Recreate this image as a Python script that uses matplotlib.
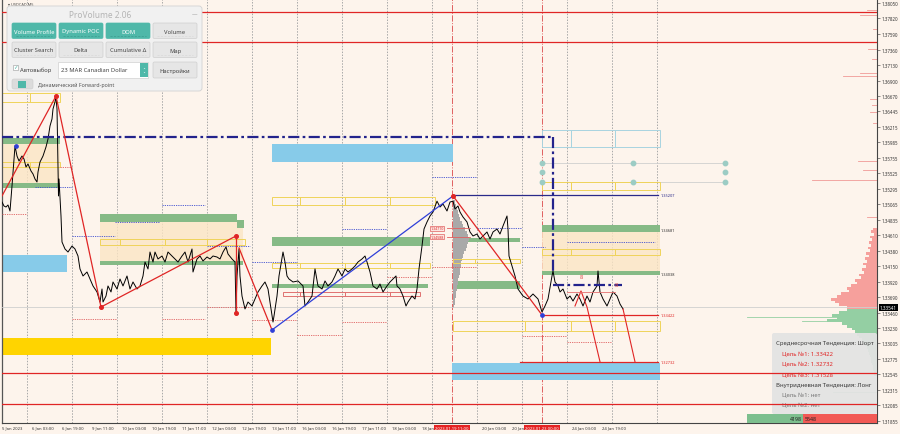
import numpy as np
import matplotlib
matplotlib.use("Agg")
import matplotlib.pyplot as plt
import matplotlib.transforms as mtransforms
from matplotlib.patches import Rectangle, FancyBboxPatch

plt.rcParams["font.family"] = ["Noto Sans", "DejaVu Sans"]

W, H = 900, 435
BG = "#fdf4ec"
P_TOP, P_BOTTOM = 1.38109, 1.31825

# ---- price series (bar position, close) ----
bars = [2, 4, 6, 8, 10, 12, 15, 17, 19, 22, 24, 26, 28, 31, 33, 35, 37, 38, 40, 43,
        46, 48, 50, 52, 53, 55, 56, 57, 58, 58.5, 59, 61, 62, 65, 68, 72, 75, 78, 80, 83,
        87, 90, 93, 97, 100, 102, 103, 106, 108, 111, 113, 117, 120, 123, 127, 130, 133, 137, 140, 143,
        145, 148, 150, 153, 155, 158, 162, 165, 168, 172, 175, 178, 182, 185, 188, 192, 193, 197, 200, 203,
        207, 210, 213, 217, 220, 223, 226, 228, 232, 235, 236, 237, 239, 240, 242, 245, 248, 252, 255, 258,
        262, 265, 268, 271, 273, 274, 277, 279, 283, 285, 287, 289, 293, 298, 303, 305, 308, 312, 315, 318,
        322, 325, 328, 332, 335, 338, 342, 345, 348, 352, 355, 358, 362, 365, 367, 370, 373, 377, 380, 383,
        387, 390, 393, 396, 397, 400, 403, 406, 408, 412, 415, 417, 419, 422, 424, 427, 430, 433, 437, 440,
        443, 447, 450, 453, 455, 458, 460, 463, 467, 470, 473, 477, 480, 483, 487, 490, 493, 497, 500, 503,
        507, 508, 509, 512, 515, 518, 523, 528, 533, 538, 542, 545, 548, 552, 553, 555, 558, 560, 563, 567,
        570, 573, 577, 580, 583, 587, 590, 593, 597, 598, 600, 603, 607, 610, 613, 617, 620, 623]
closes = [1.35100, 1.35041, 1.35026, 1.35056, 1.34967, 1.35338, 1.35931, 1.35782, 1.35708, 1.35782,
          1.35738, 1.35619, 1.35664, 1.35560, 1.35516, 1.35441, 1.35397, 1.35545, 1.35693, 1.35782,
          1.35916, 1.36034, 1.36227, 1.36331, 1.36479, 1.36583, 1.36657, 1.36479, 1.35634, 1.35190,
          1.35441, 1.34893, 1.34508, 1.34404, 1.34359, 1.34448, 1.34404, 1.34300, 1.34108, 1.34004,
          1.34063, 1.33959, 1.33856, 1.33767, 1.33618, 1.33811, 1.33618, 1.33707, 1.33856, 1.33767,
          1.33915, 1.33811, 1.33959, 1.33856, 1.34004, 1.33811, 1.33915, 1.33811, 1.33856, 1.34004,
          1.34211, 1.34108, 1.34359, 1.34211, 1.34359, 1.34256, 1.34300, 1.34211, 1.34359, 1.34300,
          1.34256, 1.34211, 1.34300, 1.34359, 1.34211, 1.34404, 1.34063, 1.34256, 1.34300, 1.34226,
          1.34285, 1.34256, 1.34300, 1.34285, 1.34256, 1.34359, 1.34434, 1.34330, 1.34256, 1.34211,
          1.33470, 1.34004, 1.34404, 1.34004, 1.33707, 1.33515, 1.33618, 1.33559, 1.33663, 1.33767,
          1.33856, 1.33915, 1.33811, 1.33515, 1.33322, 1.33411, 1.33707, 1.34004, 1.34359, 1.34211,
          1.34004, 1.33959, 1.33915, 1.33930, 1.33856, 1.33559, 1.33618, 1.33707, 1.34108, 1.33856,
          1.33811, 1.33930, 1.33856, 1.33915, 1.34004, 1.34108, 1.34004, 1.34108, 1.34063, 1.34108,
          1.34152, 1.34211, 1.34256, 1.34300, 1.34211, 1.34063, 1.33856, 1.33811, 1.33885, 1.33767,
          1.33856, 1.33915, 1.33959, 1.34004, 1.33856, 1.33811, 1.33707, 1.33559, 1.33618, 1.33707,
          1.33663, 1.33811, 1.34108, 1.34448, 1.34700, 1.34804, 1.34893, 1.34952, 1.35113, 1.35026,
          1.35071, 1.34967, 1.35100, 1.35113, 1.34997, 1.35041, 1.34952, 1.34878, 1.34804, 1.34656,
          1.34597, 1.34626, 1.34552, 1.34597, 1.34656, 1.34552, 1.34656, 1.34700, 1.34626, 1.34745,
          1.34893, 1.34700, 1.34300, 1.34152, 1.34004, 1.33811, 1.33707, 1.33663, 1.33737, 1.33663,
          1.33470, 1.33559, 1.33663, 1.34004, 1.34078, 1.33915, 1.33856, 1.33767, 1.33811, 1.33663,
          1.33707, 1.33633, 1.33737, 1.33663, 1.33559, 1.33707, 1.33618, 1.33767, 1.33856, 1.34078,
          1.33767, 1.33663, 1.33559, 1.33663, 1.33767, 1.33707, 1.33589, 1.33515]
current_price = 1.33541

# ---- zones: (bar0, bar1, top, bottom) ----
green_bands = [(2, 60, 1.36049, 1.35960), (2, 60, 1.35382, 1.35308),
               (100, 237, 1.34923, 1.34804), (237, 244, 1.34834, 1.34715),
               (100, 243, 1.34226, 1.34167), (272, 430, 1.34582, 1.34448),
               (272, 428, 1.33885, 1.33826), (453, 520, 1.34567, 1.34508),
               (453, 520, 1.33930, 1.33811), (542, 660, 1.34760, 1.34656),
               (542, 660, 1.34078, 1.34019)]
beige_zones = [(2, 60, 1.35960, 1.35338), (100, 243, 1.34804, 1.34226),
               (542, 660, 1.34656, 1.34048)]
sky_zones = [(2, 67, 1.34315, 1.34063), (272, 453, 1.35960, 1.35693),
             (452, 660, 1.32714, 1.32463)]
gold_zones = [(2, 271, 1.33085, 1.32833)]
yellow_boxes = [(2, 30, 1.36716, 1.36583), (30, 60, 1.36716, 1.36583),
                (2, 30, 1.35693, 1.35619), (30, 60, 1.35693, 1.35619),
                (100, 120, 1.34552, 1.34463), (120, 165, 1.34552, 1.34463),
                (165, 207, 1.34552, 1.34463), (207, 245, 1.34552, 1.34463),
                (272, 300, 1.35175, 1.35056), (300, 345, 1.35175, 1.35056),
                (345, 390, 1.35175, 1.35056), (390, 435, 1.35175, 1.35056),
                (272, 300, 1.34196, 1.34122), (300, 345, 1.34196, 1.34122),
                (345, 390, 1.34196, 1.34122), (390, 430, 1.34196, 1.34122),
                (453, 475, 1.34256, 1.34196), (475, 520, 1.34256, 1.34196),
                (453, 525, 1.33337, 1.33189), (525, 571, 1.33337, 1.33189),
                (571, 615, 1.33337, 1.33189), (615, 660, 1.33337, 1.33189),
                (542, 571, 1.35397, 1.35278), (571, 615, 1.35397, 1.35278),
                (615, 660, 1.35397, 1.35278),
                (542, 571, 1.34404, 1.34315), (571, 615, 1.34404, 1.34315),
                (615, 660, 1.34404, 1.34315)]
cyan_boxes = [(542, 571, 1.36168, 1.35916), (571, 615, 1.36168, 1.35916),
              (615, 660, 1.36168, 1.35916)]
red_boxes = [(283, 300, 1.33767, 1.33707), (300, 345, 1.33767, 1.33707),
             (345, 390, 1.33767, 1.33707), (390, 420, 1.33767, 1.33707)]

# short dotted levels: (bar0, bar1, price)
blue_dotted = [(35, 72, 1.35323), (72, 115, 1.34597), (115, 160, 1.34804),
               (162, 205, 1.35056), (207, 250, 1.34448), (252, 297, 1.34211),
               (342, 387, 1.34700), (432, 477, 1.35471), (477, 522, 1.34715),
               (522, 545, 1.34434), (567, 655, 1.34508)]
red_dotted = [(60, 72, 1.35619), (2, 27, 1.34923), (72, 117, 1.33367),
              (162, 205, 1.33367), (207, 250, 1.33544), (252, 297, 1.33352),
              (297, 342, 1.33131), (342, 387, 1.33322), (387, 432, 1.33989),
              (432, 477, 1.34137), (522, 567, 1.33115), (567, 612, 1.33026)]

# key levels
red_levels = [1.37916, 1.37470, 1.32566, 1.32107]
target_levels = [1.33422, 1.32732]
resist_level = 1.35207
poc_levels = [1.34681, 1.34038]
navy_level = 1.36064
navy_break_bar = 553
navy_low_level = 1.34034
navy_side_level = 1.33870

# analysis zigzags: (bar, price)
red_zig = [(2, 1.35190), (56, 1.36671), (101, 1.33544), (236, 1.34597)]
red_drop = [(239, 1.34419), (272, 1.33204)]
blue_leg = [(272, 1.33204), (453, 1.35190)]
red_leg = [(453, 1.35190), (542, 1.33426)]
red_small = [(575, 1.33559), (581, 1.33782), (587, 1.33544), (600, 1.32732)]
red_tail = [(623, 1.33515), (635, 1.32732)]
red_pivots = [(56, 1.36671), (101, 1.33544), (236, 1.34597), (236, 1.33456), (453, 1.35190)]
blue_pivots = [(272, 1.33204), (542, 1.33426), (16, 1.35931)]
wave_marks = [(581, 1.33989), (616, 1.33885)]
teal_dots = [(542, 1.35678), (542, 1.35545), (542, 1.35397), (633, 1.35678), (633, 1.35397),
             (725, 1.35678), (725, 1.35545), (725, 1.35397)]

# volume profiles
prof_top, prof_step = 1.34700, 0.0004
prof_red = [4, 6, 3, 7, 5, 8, 6, 9, 7, 11, 8, 12, 10, 14, 11, 15, 13, 18, 16, 22,
            20, 26, 30, 28, 36, 40, 46, 42, 38, 30]
prof_green_top = 1.33500
prof_green = [30, 38, 45, 40, 50, 35, 30, 25, 22, 20, 18, 15, 14, 12, 10, 9, 8, 7,
              6, 6, 5, 4, 4, 3, 3]
thin_red = [(1.37946, 10), (1.37872, 17), (1.37664, 4), (1.37368, 9), (1.37220, 5),
            (1.37012, 17), (1.36968, 34), (1.36627, 7), (1.36538, 5), (1.36434, 7),
            (1.36271, 4), (1.35708, 19), (1.35575, 14), (1.35427, 65), (1.34878, 10)]
thin_green = [(1.33396, 130), (1.33337, 75), (1.32285, 44)]
sess_top, sess_step = 1.35100, 0.0005
sess_grey = [2, 3, 4, 5, 6, 7, 9, 10, 12, 14, 15, 16, 15, 14, 13, 11, 10, 9, 8, 8,
             7, 7, 6, 5, 5, 4, 4, 3, 3, 2, 2, 1]
buy_vol, sell_vol = 4198, 5548

# axes labels (labels at 19 Jan 11:00 and 23 Jan 11:00 sit under the red session tags)
price_ticks = [1.38050, 1.37820, 1.37590, 1.37360, 1.37130, 1.36900, 1.36670, 1.36445,
               1.36215, 1.35985, 1.35755, 1.35525, 1.35295, 1.35065, 1.34835, 1.34610,
               1.34380, 1.34150, 1.33920, 1.33690, 1.33460, 1.33230, 1.33005, 1.32775,
               1.32545, 1.32315, 1.32085, 1.31855]
time_x = [2, 32, 62, 92, 122, 152, 182, 212, 242, 272, 302, 332, 362, 392, 422,
          482, 512, 572, 602]
time_labels = ["5 Jan 2023", "6 Jan 03:00", "6 Jan 19:00", "9 Jan 11:00", "10 Jan 03:00",
               "10 Jan 19:00", "11 Jan 11:00", "12 Jan 03:00", "12 Jan 19:00", "13 Jan 11:00",
               "16 Jan 03:00", "16 Jan 19:00", "17 Jan 11:00", "18 Jan 03:00", "18 Jan 19:00",
               "20 Jan 03:00", "20 Jan 19:00", "24 Jan 03:00", "24 Jan 19:00"]
grid_x = [27, 72, 117, 162, 207, 252, 297, 342, 387, 432, 477, 522, 567, 612, 657]
session_x = [452, 542]
session_labels = ["2023.01.19 11:00", "2023.01.23 00:00"]

# ---------------------------------------------------------------
fig = plt.figure(figsize=(W / 100, H / 100), dpi=100, facecolor=BG)
ax = fig.add_axes([2 / W, 11 / H, 875 / W, 424 / H])
ax.set_facecolor(BG)
ax.set_xlim(2, 877)
ax.set_ylim(P_BOTTOM, P_TOP)
px = mtransforms.Affine2D().scale(1 / W, -1 / H).translate(0, 1) + fig.transFigure


def zone(x0, x1, top, bot, **kw):
    ax.add_patch(Rectangle((x0, bot), x1 - x0, top - bot, **kw))


for gx in grid_x:
    ax.axvline(gx, color="#a8a8a8", lw=0.7, ls=(0, (1.5, 1.5)), zorder=1)
for sx in session_x:
    ax.axvline(sx, color="#e06060", lw=0.7, ls="-.", zorder=1)

for z in beige_zones:
    zone(*z, facecolor="#fbe5c4", edgecolor="none", alpha=0.8, zorder=1.5)
for z in green_bands:
    zone(*z, facecolor="#86ba86", edgecolor="none", zorder=2)
for z in sky_zones:
    zone(*z, facecolor="#87cbe9", edgecolor="none", zorder=2)
for z in gold_zones:
    zone(*z, facecolor="#ffd400", edgecolor="none", zorder=2)
for z in yellow_boxes:
    zone(*z, facecolor="none", edgecolor="#efd35a", lw=0.7, zorder=2.5)
for z in cyan_boxes:
    zone(*z, facecolor="none", edgecolor="#a8d4e0", lw=0.7, zorder=2.5)
for z in red_boxes:
    zone(*z, facecolor="none", edgecolor="#e07070", lw=0.7, zorder=2.5)

for x0, x1, p in blue_dotted:
    ax.plot([x0, x1], [p, p], color="#3f4fd0", lw=0.6, ls=(0, (1.5, 1.2)), zorder=3)
for x0, x1, p in red_dotted:
    ax.plot([x0, x1], [p, p], color="#e06060", lw=0.6, ls=(0, (1.5, 1.2)), zorder=3)

# volume profiles
red_lv = prof_top - prof_step * np.arange(len(prof_red))
ax.barh(red_lv, prof_red, left=877 - np.array(prof_red), height=prof_step,
        color="#f6a09c", edgecolor="none", zorder=2)
green_lv = prof_green_top - prof_step * np.arange(len(prof_green))
ax.barh(green_lv, prof_green, left=877 - np.array(prof_green), height=prof_step,
        color="#94cfa3", edgecolor="none", zorder=2)
for p, w in thin_red:
    ax.plot([877 - w, 877], [p, p], color="#f19a96", lw=0.6, zorder=2)
for p, w in thin_green:
    ax.plot([877 - w, 877], [p, p], color="#94cfa3", lw=0.6, zorder=2)
sess_lv = sess_top - sess_step * np.arange(len(sess_grey))
ax.barh(sess_lv, sess_grey, left=453, height=sess_step, color="#a9a9a9",
        edgecolor="none", zorder=2.2)

ax.axhline(current_price, color="#cfcfcf", lw=0.6, zorder=2.8)

# price
ax.plot(bars, closes, color="black", lw=0.7, zorder=4)

# navy levels
nv = dict(color="#23238c", lw=1.6, ls=(0, (5, 1.5, 1.2, 1.5)), zorder=5)
ax.plot([2, navy_break_bar], [navy_level, navy_level], **nv)
ax.plot([navy_break_bar, navy_break_bar], [navy_level, navy_low_level], **nv)
ax.plot([navy_break_bar, 622], [navy_side_level, navy_side_level], **nv)
ax.plot([453, 658], [resist_level, resist_level], color="#2a2a8a", lw=0.9, zorder=5)


# zigzags
def path(pts, color, lw=0.9):
    xs, ys = zip(*pts)
    ax.plot(xs, ys, color=color, lw=lw, zorder=5)


path(red_zig, "#e02525")
path([(236, 1.34597), (236, 1.33456)], "#e02525")
path(red_drop, "#e02525")
path(blue_leg, "#2f3fd8")
path(red_leg, "#e02525")
path(red_small, "#e02525", 0.8)
path(red_tail, "#e02525", 0.8)
path([(542, target_levels[0]), (658, target_levels[0])], "#e02525")
path([(520, target_levels[1]), (658, target_levels[1])], "#e02525")
path([(567, 1.33767), (615, 1.33767)], "#e57070", 0.6)
for x, p in red_pivots:
    ax.plot(x, p, "o", ms=2.6, color="#e02525", zorder=6)
for x, p in blue_pivots:
    ax.plot(x, p, "o", ms=2.4, color="#2f3fd8", zorder=6)
for x, p in wave_marks:
    ax.text(x, p, "8", color="#e05050", fontsize=4.2, ha="center", va="center", zorder=6)
ax.plot([542, 725], [1.35678, 1.35678], color="#cfcfcf", lw=0.6, zorder=2)
ax.plot([542, 725], [1.35397, 1.35397], color="#cfcfcf", lw=0.6, zorder=2)
for x, p in teal_dots:
    ax.plot(x, p, "o", ms=3.2, color="#9cccc4", zorder=5)

for p, s in [(1.34710, "1.34710"), (1.34588, "1.34588")]:
    ax.plot([447, 470], [p, p], color="#e06060", lw=0.6, zorder=5)
    ax.text(437, p, s, fontsize=2.6, color="#e03030", ha="center", va="center", zorder=6,
            bbox=dict(boxstyle="square,pad=0.15", fc="#fbe5e0", ec="#e06060", lw=0.5))

# level labels
ax.text(661, resist_level, "1.35207", fontsize=2.8, color="#2a2a8a", va="center", zorder=6)
for p in poc_levels:
    ax.text(661, p, f"{p:.5f}", fontsize=2.8, color="#333333", va="center", zorder=6)
for p in target_levels:
    ax.text(661, p, f"{p:.5f}", fontsize=2.8, color="#e02525", va="center", zorder=6)

# info box (behind the full-width red levels)
ax.add_patch(FancyBboxPatch((772, 334), 105, 81, boxstyle="round,pad=0,rounding_size=2",
                            transform=px, fc="#e3e3e3", ec="none", alpha=0.93, zorder=5.5))
info = [("Среднесрочная Тенденция: Шорт", 776, "#3a3a3a"),
        ("Цель №1: 1.33422", 782, "#e02525"),
        ("Цель №2: 1.32732", 782, "#e02525"),
        ("Цель №3: 1.31528", 782, "#e02525"),
        ("Внутридневная Тенденция: Лонг", 776, "#3a3a3a"),
        ("Цель №1: нет", 782, "#777777"),
        ("Цель №2: нет", 782, "#777777")]
for i, (s, x, c) in enumerate(info):
    ax.text(x, 344 + i * 10.3, s, transform=px, fontsize=4.3, color=c, va="center",
            zorder=5.6, clip_on=True)

for p in red_levels:
    ax.axhline(p, color="#e02525", lw=0.9, zorder=6)

# buy / sell totals
scale = 130 / (buy_vol + sell_vol)
x_buy = 877 - (buy_vol + sell_vol) * scale
ax.add_patch(Rectangle((x_buy, 415), buy_vol * scale, 9, transform=px,
                       fc="#7dbf8e", ec="none", zorder=6))
ax.add_patch(Rectangle((x_buy + buy_vol * scale, 415), sell_vol * scale, 9, transform=px,
                       fc="#f25a55", ec="none", zorder=6))
ax.text(x_buy + buy_vol * scale - 1, 419.5, str(buy_vol), transform=px, fontsize=3.8,
        color="#222222", ha="right", va="center", zorder=7)
ax.text(x_buy + buy_vol * scale + 1.5, 419.5, str(sell_vol), transform=px, fontsize=3.8,
        color="#222222", ha="left", va="center", zorder=7)

# ---- ProVolume panel ----
ax.text(8, 4, "▾ USDCAD,M5", transform=px, fontsize=2.8, color="#444444", va="center", zorder=3)
ax.add_patch(FancyBboxPatch((7, 7), 195, 85, boxstyle="round,pad=0,rounding_size=3",
                            transform=px, fc="#f1f1f1", ec="#d2d2d2", lw=0.6, zorder=10))
ax.text(100, 15, "ProVolume 2.06", transform=px, fontsize=6, color="#b4b4b4",
        ha="center", va="center", zorder=11)
ax.text(195, 15, "—", transform=px, fontsize=4, color="#999999", ha="center", va="center", zorder=11)
TEAL = "#4fb8a9"
buttons = [("Volume Profile", 12, 24, True), ("Dynamic POC", 59, 24, True),
           ("DOM", 106, 24, True), ("Volume", 153, 24, False),
           ("Cluster Search", 12, 43, False), ("Delta", 59, 43, False),
           ("Cumulative Δ", 106, 43, False), ("Map", 153, 43, False)]
for label, bx, by, on in buttons:
    ax.add_patch(FancyBboxPatch((bx, by), 44, 15.5, boxstyle="round,pad=0,rounding_size=1.5",
                                transform=px, fc=TEAL if on else "#e6e6e6",
                                ec=TEAL if on else "#cfcfcf", lw=0.5, zorder=11))
    ax.text(bx + 22, by + 8, label, transform=px, fontsize=4.2,
            color="white" if on else "#444444", ha="center", va="center", zorder=12)
    ax.plot([bx + 4, bx + 40], [by + 13, by + 13], transform=px, lw=0.5,
            color="#3d9a8e" if on else "#d8d8d8", ls=(0, (3, 2)), zorder=12)

ax.add_patch(Rectangle((13, 66), 5, 5, transform=px, fc="white", ec="#999999", lw=0.4, zorder=11))
ax.text(15.5, 68, "✓", transform=px, fontsize=4, color=TEAL, ha="center", va="center", zorder=12)
ax.text(20, 70, "Автовыбор", transform=px, fontsize=4.2, color="#444444", va="center", zorder=12)
ax.add_patch(Rectangle((58, 63), 90, 16, transform=px, fc="white", ec="#d0d0d0", lw=0.5, zorder=11))
ax.text(61, 71, "23 MAR Canadian Dollar", transform=px, fontsize=4.2, color="#444444",
        va="center", zorder=12)
ax.add_patch(Rectangle((140, 64), 8, 14, transform=px, fc=TEAL, ec="none", zorder=12))
ax.text(144, 71, "⌃\n⌄", transform=px, fontsize=2.6, color="white", ha="center", va="center",
        linespacing=0.6, zorder=13)
ax.add_patch(FancyBboxPatch((153, 63), 44, 16, boxstyle="round,pad=0,rounding_size=1.5",
                            transform=px, fc="#e6e6e6", ec="#cfcfcf", lw=0.5, zorder=11))
ax.text(175, 71, "Настройки", transform=px, fontsize=4.2, color="#444444", ha="center",
        va="center", zorder=12)
ax.add_patch(FancyBboxPatch((12, 80), 21, 10, boxstyle="round,pad=0,rounding_size=2",
                            transform=px, fc="#dcdcdc", ec="#cccccc", lw=0.4, zorder=11))
ax.add_patch(Rectangle((18, 81.5), 8, 7, transform=px, fc=TEAL, ec="none", zorder=12))
ax.text(38, 85, "Динамический Forward-point", transform=px, fontsize=3.8, color="#555555",
        va="center", zorder=12)

# ---- axes ----
ax.spines["top"].set_visible(False)
ax.spines["left"].set_color("#555555")
ax.spines["left"].set_linewidth(0.9)
for s in ("right", "bottom"):
    ax.spines[s].set_color("#444444")
    ax.spines[s].set_linewidth(0.8)
ax.yaxis.tick_right()
ax.set_yticks(price_ticks, labels=[f"{p:.5f}" for p in price_ticks])
ax.tick_params(axis="y", labelsize=3.2, length=2, width=0.4, pad=1, colors="#333333")
ax.set_xticks(time_x, labels=time_labels)
ax.tick_params(axis="x", labelsize=3.0, length=0, pad=1.8, colors="#333333")
for t in ax.get_xticklabels():
    t.set_ha("left")

ax.text(1.003, current_price, f"{current_price:.5f}", transform=ax.get_yaxis_transform(),
        fontsize=3.3, color="white", va="center", ha="left", clip_on=False, zorder=12,
        bbox=dict(boxstyle="square,pad=0.2", fc="black", ec="none"))
for sx, lab in zip(session_x, session_labels):
    ax.text(sx, -0.011, lab, transform=ax.get_xaxis_transform(), fontsize=3.0,
            color="white", ha="center", va="center", clip_on=False, zorder=12,
            bbox=dict(boxstyle="square,pad=0.2", fc="#e52222", ec="none"))

fig.savefig("out.png", dpi=100, facecolor=BG)
